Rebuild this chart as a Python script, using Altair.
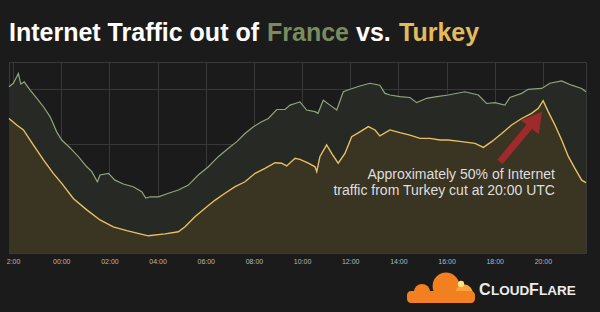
import altair as alt
import pandas as pd

# ---- data (hours after 22:00, arbitrary traffic units) ----
france_hours = [-0.17, 0.01, 0.22, 0.32, 0.46, 0.71, 0.98, 1.26, 1.54, 1.81, 2.02, 2.37, 2.71,
                3.06, 3.27, 3.50, 3.61, 3.96, 4.23, 4.58, 4.99, 5.34, 5.51, 5.69, 6.03, 6.45,
                6.86, 7.28, 7.69, 8.11, 8.52, 8.94, 9.29, 9.63, 9.98, 10.32, 10.60, 10.95,
                11.29, 11.50, 11.71, 11.91, 12.19, 12.54, 12.66, 12.88, 13.16, 13.44, 13.71,
                13.99, 14.40, 14.82, 15.23, 15.44, 15.65, 16.06, 16.48, 16.76, 17.17, 17.59,
                18.07, 18.76, 19.32, 19.66, 20.01, 20.42, 20.63, 21.12, 21.39, 21.95, 22.29,
                22.78, 23.19, 23.61, 23.79]
france_values = [6.09, 6.22, 6.58, 6.19, 6.27, 5.97, 5.68, 5.36, 4.99, 4.44, 4.14, 3.85, 3.53,
                 3.16, 2.98, 2.61, 2.86, 2.92, 2.67, 2.53, 2.43, 2.25, 2.01, 2.06, 2.06, 2.19,
                 2.31, 2.49, 2.86, 3.16, 3.53, 3.84, 4.08, 4.38, 4.63, 4.81, 4.93, 5.26,
                 5.26, 5.42, 5.48, 5.54, 5.24, 5.18, 5.12, 5.60, 5.42, 5.24, 5.91,
                 6.00, 6.12, 6.22, 6.15, 5.85, 5.79, 5.73, 5.70, 5.51, 5.67, 5.73,
                 5.79, 5.91, 5.79, 5.48, 5.51, 5.42, 5.70, 5.85, 6.00, 6.03, 6.22,
                 6.31, 6.15, 6.03, 5.91]

turkey_hours = [-0.17, 0.15, 0.43, 0.84, 1.26, 1.67, 2.02, 2.50, 3.06, 3.61, 4.16, 4.72, 5.27,
                5.62, 6.31, 6.86, 7.14, 7.55, 7.97, 8.39, 8.80, 9.22, 9.63, 10.05, 10.46,
                10.88, 11.15, 11.36, 11.71, 11.91, 12.26, 12.54, 12.61, 12.74, 13.02, 13.23,
                13.50, 13.78, 14.06, 14.40, 14.75, 15.03, 15.23, 15.65, 16.06, 16.48, 16.90,
                17.31, 17.73, 18.07, 18.63, 19.18, 19.53, 19.87, 20.29, 20.70, 21.12, 21.53,
                21.81, 22.01, 22.22, 22.50, 22.78, 23.06, 23.33, 23.61, 23.79]
turkey_values = [4.93, 4.69, 4.51, 3.96, 3.41, 2.92, 2.55, 2.00, 1.58, 1.21, 0.96, 0.82, 0.70,
                 0.63, 0.70, 0.78, 0.96, 1.33, 1.64, 1.94, 2.19, 2.43, 2.61, 2.92, 3.10,
                 3.31, 3.29, 3.19, 3.47, 3.43, 3.29, 3.16, 2.98, 3.53, 3.96, 3.65,
                 3.29, 3.65, 4.26, 4.44, 4.63, 4.51, 4.29, 4.51, 4.41, 4.32, 4.20,
                 4.20, 4.14, 4.14, 4.08, 4.02, 3.87, 4.08, 4.38, 4.69, 4.93, 5.12,
                 5.30, 5.58, 5.18, 4.69, 4.14, 3.53, 3.10, 2.67, 2.58]

tick_hours = [0, 2, 4, 6, 8, 10, 12, 14, 16, 18, 20, 22]
grid_levels = [0, 1, 2, 3, 4, 5, 6, 7]

note_lines = ["Approximately 50% of Internet", "traffic from Turkey cut at 20:00 UTC"]
note_hour = [22.5, 22.5]
note_level = [2.71, 2.12]

arrow_hours = [20.22, 21.63]
arrow_levels = [3.34, 4.84]
arrow_head = {"hour": [21.71], "level": [4.89]}

# ---- tables ----
france = pd.DataFrame({"hour": france_hours, "level": france_values})
turkey = pd.DataFrame({"hour": turkey_hours, "level": turkey_values})
notes = pd.DataFrame({"hour": note_hour, "level": note_level, "text": note_lines})
arrow = pd.DataFrame({"hour": [arrow_hours[0]], "level": [arrow_levels[0]],
                      "hour2": [arrow_hours[1]], "level2": [arrow_levels[1]]})
head = pd.DataFrame(arrow_head)

BG = "#1c1b1b"
GRID = "#383838"
FONT = "Liberation Sans"

xscale = alt.Scale(domain=[-0.17, 23.79], nice=False, zero=False)
yscale = alt.Scale(domain=[0, 7], nice=False)

label_expr = ("datum.value == 0 ? '2:00' : "
              "((22 + datum.value) % 24 < 10 ? '0' : '') + ((22 + datum.value) % 24) + ':00'")

xaxis = alt.Axis(values=tick_hours, labelExpr=label_expr, title=None, ticks=False,
                 domain=False, grid=True, gridColor=GRID, labelColor="#b8b8b8",
                 labelFontSize=7, labelFont=FONT, labelPadding=4)
yaxis = alt.Axis(values=grid_levels, labels=False, ticks=False, domain=False, title=None,
                 grid=True, gridColor=GRID)

X = alt.X("hour:Q", scale=xscale, axis=xaxis)
Y = alt.Y("level:Q", scale=yscale, axis=yaxis)

fr_area = alt.Chart(france).mark_area(color="#272924").encode(x=X, y=Y)
tk_area = alt.Chart(turkey).mark_area(color="#3a3423").encode(x=X, y=Y)
fr_line = alt.Chart(france).mark_line(color="#8ea57c", strokeWidth=1.2).encode(x=X, y=Y)
tk_line = alt.Chart(turkey).mark_line(color="#e8c060", strokeWidth=1.4).encode(x=X, y=Y)

shaft = alt.Chart(arrow).mark_rule(color="#9e2a2b", strokeWidth=7).encode(
    x=alt.X("hour:Q", scale=xscale), y=alt.Y("level:Q", scale=yscale),
    x2="hour2:Q", y2="level2:Q")
tip = alt.Chart(head).mark_point(shape="triangle-up", filled=True, color="#9e2a2b",
                                 opacity=1, size=520, angle=38).encode(
    x=alt.X("hour:Q", scale=xscale), y=alt.Y("level:Q", scale=yscale))

note = alt.Chart(notes).mark_text(align="right", baseline="alphabetic", font=FONT,
                                  fontSize=14, color="#dedede").encode(
    x=alt.X("hour:Q", scale=xscale), y=alt.Y("level:Q", scale=yscale), text="text:N")

# ---- title (multi-coloured) ----
def title_piece(txt, xpos, col):
    return alt.Chart(pd.DataFrame({"t": [txt]})).mark_text(
        align="left", baseline="alphabetic", font=FONT, fontSize=25, fontWeight="bold",
        color=col).encode(x=alt.value(xpos), y=alt.value(-21), text="t:N")

title = (title_piece("Internet Traffic out of", 0, "#ffffff")
         + title_piece("France", 258, "#7a8c5e")
         + title_piece("vs.", 347, "#ffffff")
         + title_piece("Turkey", 390, "#e3bb5c"))

# ---- CloudFlare logo ----
def blob(xp, yp, sz, col):
    return alt.Chart(pd.DataFrame({"k": [0]})).mark_circle(color=col, opacity=1, size=sz).encode(
        x=alt.value(xp), y=alt.value(yp))

cloud = (blob(413, 230, 260, "#f38020") + blob(437, 224, 720, "#f38020")
         + blob(455, 231, 300, "#f9a33a")
         + alt.Chart(pd.DataFrame({"k": [0]})).mark_rect(color="#f38020", cornerRadius=4).encode(
             x=alt.value(398), x2=alt.value(466), y=alt.value(229), y2=alt.value(241))
         + blob(452, 222, 40, "#ffe27a"))

def logo_txt(txt, xp, sz):
    return alt.Chart(pd.DataFrame({"t": [txt]})).mark_text(
        align="left", baseline="alphabetic", font=FONT, fontSize=sz, fontWeight="bold",
        color="#ececec").encode(x=alt.value(xp), y=alt.value(233), text="t:N")

logo = (logo_txt("C", 470, 16) + logo_txt("LOUD", 482, 13.5)
        + logo_txt("F", 520, 16) + logo_txt("LARE", 530, 13.5))

chart = alt.layer(fr_area, tk_area, fr_line, tk_line, shaft, tip, note, title, cloud, logo).properties(
    width=577, height=191, background=BG,
    padding={"left": 9, "top": 62, "right": 14, "bottom": 59},
    autosize=alt.AutoSizeParams(type="none")
).configure_view(stroke=GRID, fill=BG)

chart.save("out.html", embed_options={"renderer": "svg", "actions": False})
